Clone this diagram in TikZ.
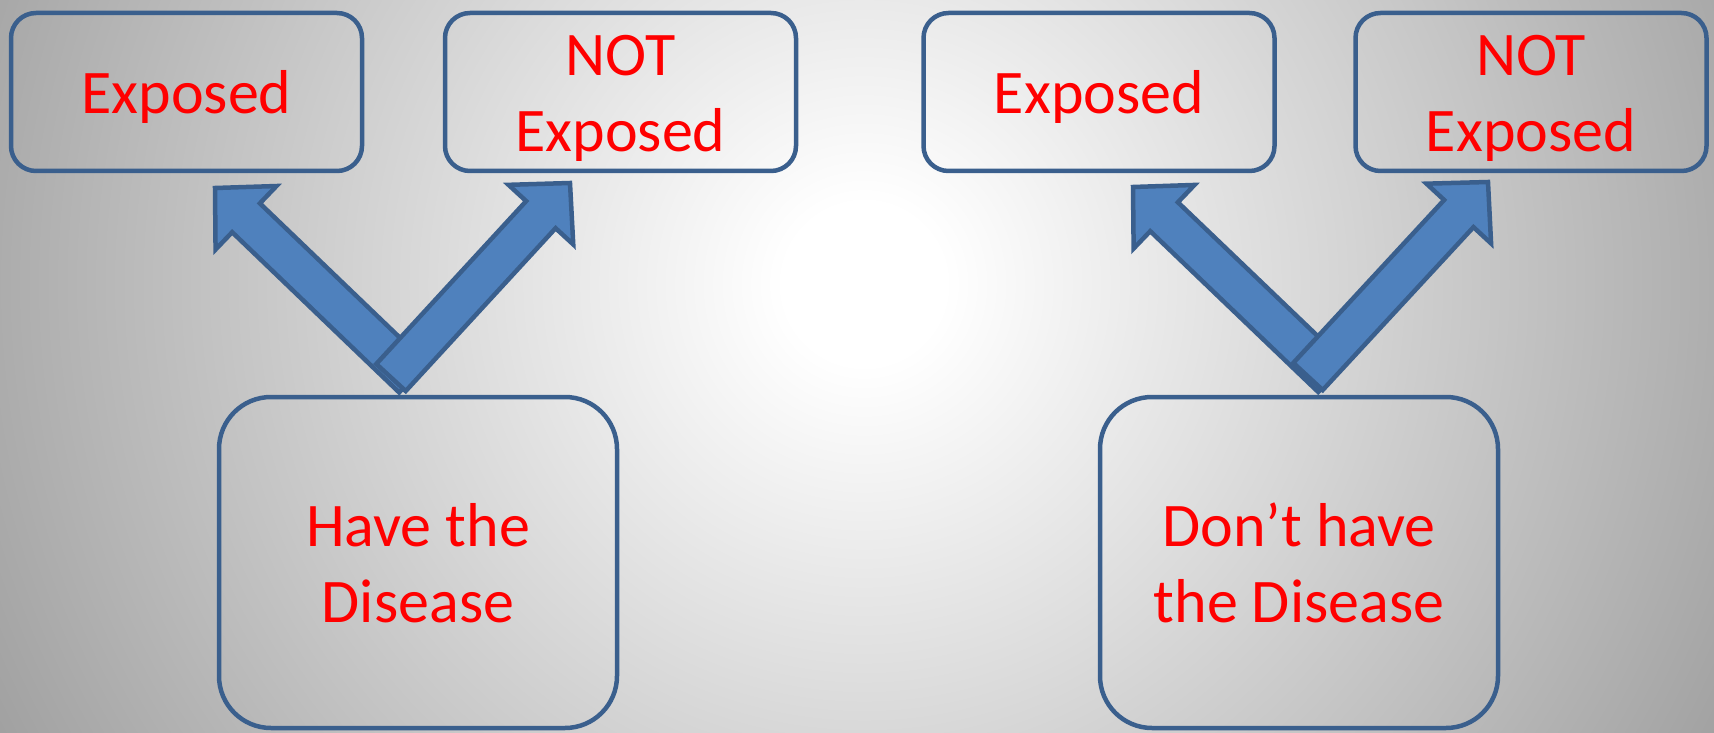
\documentclass[tikz,border=0pt]{standalone}
\usepackage{fontspec}
\setmainfont{Carlito}
\usetikzlibrary{calc}
\definecolor{boxline}{HTML}{3A5F8D}
\definecolor{arrowfill}{HTML}{4F81BD}
\definecolor{txtred}{HTML}{FF0000}
\definecolor{bgedge}{gray}{0.62}
\pgfdeclareradialshading{bgshade}{\pgfpoint{0bp}{0bp}}{color(0bp)=(white); color(2bp)=(white); color(25bp)=(bgedge); color(50bp)=(bgedge)}
\newcommand{\firststrut}{\rule{0pt}{60pt}}
\newcommand{\laststrut}{\rule[-16pt]{0pt}{16pt}}
\tikzset{
  box/.style={draw=boxline, line width=4.5pt, rounded corners=25pt, text=txtred, align=center,
    font=\fontsize{62}{76}\selectfont, inner sep=0pt, outer sep=0pt},
  topbox/.style={box, minimum width=351pt, minimum height=158pt},
  bigbox/.style={box, rounded corners=52pt, minimum width=398pt, minimum height=331pt},
  blockarrow/.style={draw=boxline, fill=arrowfill, line width=4.5pt, line join=miter}
}
\newcommand{\blockarr}[2]{%
  \coordinate (#1h) at ($(#2)!43pt!(#1)$);
  \draw[blockarrow] ($(#1)!20pt!90:(#2)$) -- ($(#1h)!20pt!-90:(#1)$) -- ($(#1h)!44pt!-90:(#1)$)
    -- (#2) -- ($(#1h)!44pt!90:(#1)$) -- ($(#1h)!20pt!90:(#1)$) -- ($(#1)!20pt!-90:(#2)$) -- cycle;}
\begin{document}
\begin{tikzpicture}[x=1pt,y=-1pt]
\useasboundingbox (0,0) rectangle (1714,733);
\begin{scope}
  \clip (0,0) rectangle (1714,733);
  \shade[shading=bgshade] (864,284) circle[radius=1000pt];
\end{scope}
\node[topbox] (exp1) at (186.5,92) {\firststrut Exposed\laststrut};
\node[topbox] (not1) at (620.5,92) {\firststrut NOT\\Exposed\laststrut};
\node[topbox] (exp2) at (1099,92) {\firststrut Exposed\laststrut};
\node[topbox] (not2) at (1531,92) {\firststrut NOT\\Exposed\laststrut};
\node[bigbox] (have) at (418,562.5) {\firststrut Have the\\Disease\laststrut};
\node[bigbox] (donthave) at (1299,562.5) {\firststrut Don’t have\\the Disease\laststrut};
\coordinate (a1s) at ($(have.north)+(-5,-19)$);
\coordinate (a1t) at ($(exp1.south)+(28.5,17)$);
\coordinate (a2s) at ($(have.north)+(-27,-19.5)$);
\coordinate (a2t) at ($(not1.south)+(-50.5,12)$);
\coordinate (a3s) at ($(donthave.north)+(33,-19.5)$);
\coordinate (a3t) at ($(exp2.south)+(34,16)$);
\coordinate (a4s) at ($(donthave.north)+(9,-20.5)$);
\coordinate (a4t) at ($(not2.south)+(-43,11)$);
\blockarr{a1s}{a1t}
\blockarr{a2s}{a2t}
\blockarr{a3s}{a3t}
\blockarr{a4s}{a4t}
\end{tikzpicture}
\end{document}
